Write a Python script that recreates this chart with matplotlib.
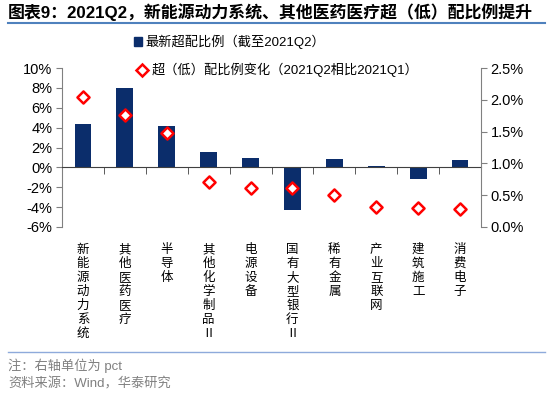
import numpy as np
import matplotlib.pyplot as plt
from matplotlib.lines import Line2D
from matplotlib.patches import Patch
from matplotlib.ticker import FuncFormatter

mixed = ['Liberation Sans', 'Noto Sans CJK SC', 'DejaVu Sans']
cjk = ['Noto Sans CJK SC', 'DejaVu Sans']
plt.rcParams['font.family'] = mixed

# 数据
categories = ['新能源动力系统', '其他医药医疗', '半导体', '其他化学制品Ⅱ', '电源设备',
              '国有大型银行Ⅱ', '稀有金属', '产业互联网', '建筑施工', '消费电子']
latest_ratio = [4.4, 8.0, 4.2, 1.5, 0.9, -4.3, 0.8, 0.15, -1.2, 0.75]      # 左轴 %
ratio_change = [2.05, 1.76, 1.48, 0.70, 0.62, 0.61, 0.50, 0.31, 0.30, 0.28]  # 右轴 pct

bar_color = '#0B2D6B'
grey = '#808080'

fig = plt.figure(figsize=(5.5, 3.98), dpi=100)
ax = fig.add_axes([62 / 550, 1 - 227 / 398, (481 - 62) / 550, (227 - 68) / 398])
ax2 = ax.twinx()

x = np.arange(len(categories))
ax.bar(x, latest_ratio, width=0.4, color=bar_color, zorder=2)
ax2.scatter(x, ratio_change, marker='D', s=38, facecolor='white',
            edgecolor='#FF0000', linewidth=1.8, zorder=3)

ax.set_xlim(-0.5, len(categories) - 0.5)
ax.set_ylim(-6, 10)
ax.set_yticks(np.arange(-6, 11, 2))
ax.yaxis.set_major_formatter(FuncFormatter(lambda v, p: f'{v:.0f}%'))
ax2.set_ylim(0, 2.5)
ax2.set_yticks(np.arange(0, 2.51, 0.5))
ax2.yaxis.set_major_formatter(FuncFormatter(lambda v, p: f'{v:.1f}%'))

for a in (ax, ax2):
    a.spines['top'].set_visible(False)
    a.tick_params(axis='y', labelsize=10.5, color=grey, length=4, pad=3)
ax.spines['left'].set_color(grey)
ax.spines['right'].set_visible(False)
ax2.spines['left'].set_visible(False)
ax2.spines['bottom'].set_visible(False)
ax2.spines['right'].set_color(grey)
ax.spines['bottom'].set_position(('data', 0))
ax.spines['bottom'].set_color('#404040')
ax.set_zorder(ax2.get_zorder() - 1)
ax.patch.set_visible(False)

ax.set_xticks(x)
ax.set_xticklabels([])
ax.tick_params(axis='x', which='major', length=0)
ax.set_xticks(np.arange(0.5, len(categories) - 0.4, 1), minor=True)
ax.tick_params(axis='x', which='minor', length=5, color='#404040', direction='out')

# 竖排类别标签
for i, c in enumerate(categories):
    ax.text(i, -0.1, '\n'.join(c), transform=ax.get_xaxis_transform(),
            ha='center', va='top', fontsize=9, linespacing=1.1, family=cjk)

# 图例
h1 = Patch(color=bar_color)
h2 = Line2D([], [], marker='D', ls='none', markersize=6, markerfacecolor='white',
            markeredgecolor='#FF0000', markeredgewidth=1.8)
fig.legend([h1], ['最新超配比例（截至2021Q2）'], loc='center left',
           bbox_to_anchor=(122 / 550, 1 - 42 / 398), frameon=False,
           handlelength=0.6, handleheight=0.6, handletextpad=0.3,
           prop={'family': mixed, 'size': 9.5})
fig.legend([h2], ['超（低）配比例变化（2021Q2相比2021Q1）'], loc='center left',
           bbox_to_anchor=(125 / 550, 1 - 70 / 398), frameon=False,
           handlelength=0.8, handletextpad=0.3,
           prop={'family': mixed, 'size': 9.5})

# 标题和注释
fig.text(8 / 550, 1 - 12 / 398, '图表9：2021Q2，新能源动力系统、其他医药医疗超（低）配比例提升',
         fontsize=12.2, fontweight='bold', va='center', ha='left', family=mixed)
fig.add_artist(Line2D([8 / 550, 545 / 550], [1 - 23 / 398] * 2, color='#4F81BD', lw=1.5))
fig.add_artist(Line2D([8 / 550, 545 / 550], [1 - 352 / 398] * 2, color='#8EAADB', lw=1))
fig.text(8 / 550, 1 - 366 / 398, '注：右轴单位为 pct', fontsize=9.5, color=grey,
         va='center', family=mixed)
fig.text(8 / 550, 1 - 384 / 398, '资料来源：Wind，华泰研究', fontsize=9.5, color=grey,
         va='center', family=mixed)

fig.savefig('out.png', dpi=100)
